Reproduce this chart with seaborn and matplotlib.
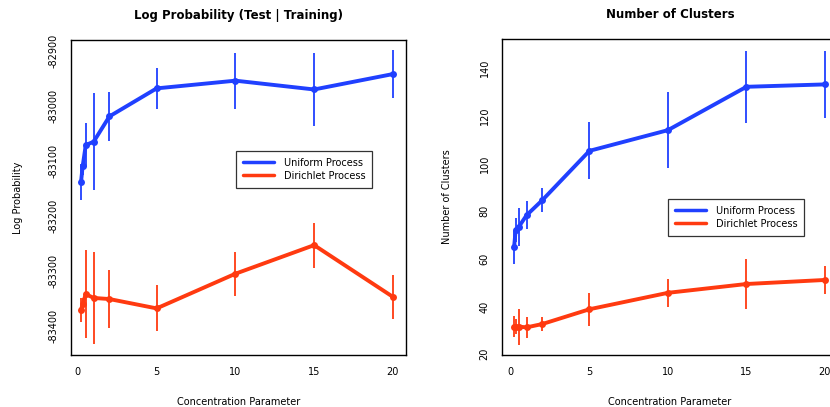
#!/usr/bin/env python3
"""
Log probability and cluster count vs concentration parameter (uniform vs Dirichlet process).
"""

import matplotlib

matplotlib.use("Agg")
import matplotlib.pyplot as plt
import numpy as np
import pandas as pd
import seaborn as sns

# concentration parameter values
conc = [0.2, 0.3, 0.5, 1, 2, 5, 10, 15, 20]

# log probability (test | training), mean and half-width of error bar
logp_uniform = [-83138, -83110, -83071, -83065, -83019, -82968, -82954, -82970, -82942]
logp_uniform_err = [33, 15, 40, 88, 44, 37, 51, 66, 43]
logp_dirichlet = [-83371, -83360, -83342, -83349, -83351, -83368, -83305, -83253, -83347]
logp_dirichlet_err = [22, 10, 80, 84, 53, 42, 40, 41, 40]

# number of clusters
nclust_uniform = [64.8, 72.0, 73.4, 78.3, 84.6, 105.3, 114.0, 132.2, 133.2]
nclust_uniform_err = [7, 5, 8, 6, 5, 12, 16, 15, 14]
nclust_dirichlet = [31.5, 31.5, 31.5, 31.2, 32.6, 38.8, 45.7, 49.4, 51.1]
nclust_dirichlet_err = [4.5, 3, 7.5, 4.5, 3, 7, 6, 10.6, 6]

series = ["Uniform Process", "Dirichlet Process"]
colors = {"Uniform Process": "#2040ff", "Dirichlet Process": "#ff3a10"}


def long_frame(uni, uni_err, dp, dp_err):
    a = pd.DataFrame({"conc": conc, "value": uni, "err": uni_err, "process": series[0]})
    b = pd.DataFrame({"conc": conc, "value": dp, "err": dp_err, "process": series[1]})
    return pd.concat([a, b], ignore_index=True)


def draw_panel(ax, df, title, ylabel, ylabelpad, yticks, ylim, xlim, legend_anchor):
    for name in series:
        sub = df[df["process"] == name]
        ax.vlines(sub["conc"], sub["value"] - sub["err"], sub["value"] + sub["err"],
                  color=colors[name], lw=1.3, zorder=2)
    sns.lineplot(data=df, x="conc", y="value", hue="process", hue_order=series,
                 palette=colors, marker="o", markersize=5, markeredgewidth=0,
                 lw=2.8, sort=True, estimator=None, ax=ax, legend=False, zorder=3)
    ax.set_xlim(*xlim)
    ax.set_ylim(*ylim)
    ax.set_xticks([0, 5, 10, 15, 20])
    ax.set_yticks(yticks)
    ax.set_yticklabels([str(v) for v in yticks], rotation=90, va="center")
    ax.tick_params(axis="both", labelsize=7, length=5, width=0.8, direction="out",
                   pad=4, colors="black")
    ax.set_title(title, fontsize=8.5, fontweight="bold", pad=15, color="black")
    ax.set_xlabel("Concentration Parameter", fontsize=7, labelpad=14, color="black")
    ax.set_ylabel(ylabel, fontsize=7, labelpad=ylabelpad, color="black")
    for sp in ax.spines.values():
        sp.set_visible(True)
        sp.set_color("black")
        sp.set_linewidth(1.0)
    handles = [plt.Line2D([], [], color=colors[n], lw=2.5) for n in series]
    leg = ax.legend(handles, series, loc="upper left", bbox_to_anchor=legend_anchor,
                    frameon=True, fancybox=False, edgecolor="black", fontsize=7,
                    handlelength=3.2, borderpad=0.7, labelspacing=0.3,
                    handletextpad=1.0, borderaxespad=0, labelcolor="black")
    leg.get_frame().set_linewidth(0.9)


def main() -> None:
    sns.set_theme(style="white")
    plt.rcParams["font.family"] = ["DejaVu Sans"]

    fig = plt.figure(figsize=(8.3, 4.07), dpi=100)
    ax1 = fig.add_axes([0.0855, 0.1278, 0.4036, 0.774])
    ax2 = fig.add_axes([0.6048, 0.1278, 0.4048, 0.776])

    df1 = long_frame(logp_uniform, logp_uniform_err, logp_dirichlet, logp_dirichlet_err)
    draw_panel(ax1, df1, "Log Probability (Test | Training)", "Log Probability", 18,
               [-82900, -83000, -83100, -83200, -83300, -83400],
               (-83452.7, -82880), (-0.44, 20.83), (0.4925, 0.6476))

    df2 = long_frame(nclust_uniform, nclust_uniform_err, nclust_dirichlet, nclust_dirichlet_err)
    draw_panel(ax2, df2, "Number of Clusters", "Number of Clusters", 20,
               [20, 40, 60, 80, 100, 120, 140],
               (19.6, 152.2), (-0.57, 20.83), (0.494, 0.4937))

    fig.savefig("out.png", dpi=100, facecolor="white")
    plt.close(fig)


if __name__ == "__main__":
    main()
